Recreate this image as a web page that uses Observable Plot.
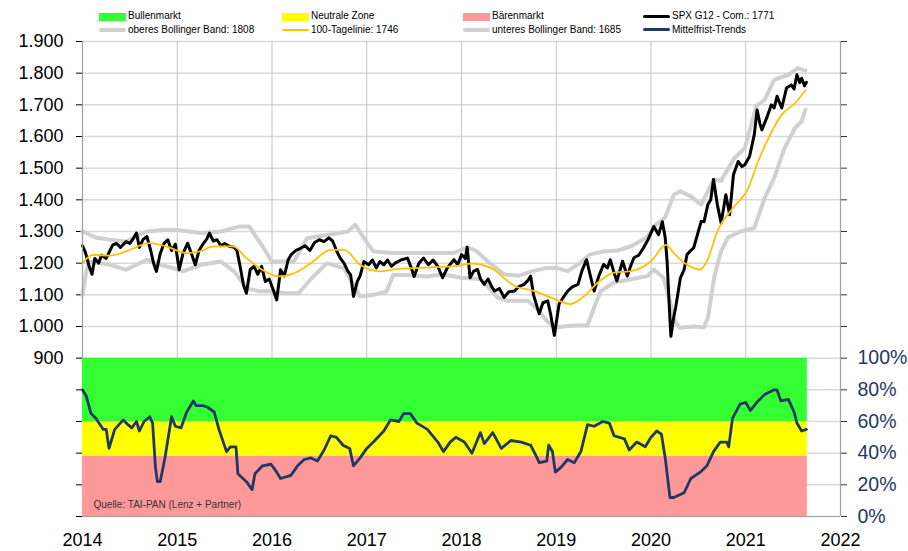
<!DOCTYPE html>
<html>
<head>
<meta charset="utf-8">
<script src="https://cdn.jsdelivr.net/npm/d3@7"></script>
<script src="https://cdn.jsdelivr.net/npm/@observablehq/plot@0.6"></script>
<style>
  html, body { margin: 0; padding: 0; background: #fff; }
  #wrap { position: relative; width: 908px; height: 551px; font-family: "Liberation Sans", Arial, sans-serif; }
  #wrap svg { position: absolute; left: 0; top: 0; }
  #legend { position: absolute; left: 0; top: 0; width: 908px; height: 40px; font-size: 10px; color: #000; z-index: 2; }
  .li { position: absolute; white-space: nowrap; line-height: 12px; }
  .sw { position: absolute; }
  svg.mainplot g[aria-label="x-axis"] text { font-size: 19.5px; fill: #000; }
  svg.mainplot g[aria-label="y-axis"] text { font-size: 18px; fill: #000; }
  svg.mainplot g[aria-label="y-axis"] line, svg.pctplot g[aria-label="y-axis"] line { stroke: #a0a0a0; }
  svg.pctplot g[aria-label="y-axis"] text { font-size: 19.5px; fill: #1f3864; }
</style>
</head>
<body>
<div id="wrap"></div>
<script>
// ---------- data (decimal year, value) ----------
const spx = [
[2014.00,1255],[2014.03,1235],[2014.07,1190],[2014.10,1165],[2014.13,1215],[2014.17,1200],[2014.20,1225],[2014.25,1215],
[2014.29,1240],[2014.32,1258],[2014.36,1262],[2014.40,1250],[2014.46,1268],[2014.50,1262],[2014.54,1280],[2014.57,1295],
[2014.60,1250],[2014.64,1275],[2014.68,1284],[2014.72,1240],[2014.75,1200],[2014.78,1174],[2014.82,1230],[2014.86,1262],
[2014.90,1274],[2014.94,1240],[2014.98,1260],[2015.02,1179],[2015.06,1230],[2015.11,1263],[2015.15,1230],[2015.19,1195],
[2015.23,1240],[2015.27,1260],[2015.31,1275],[2015.34,1295],[2015.38,1270],[2015.42,1274],[2015.46,1255],[2015.50,1262],
[2015.55,1253],[2015.60,1250],[2015.63,1240],[2015.66,1195],[2015.70,1130],[2015.73,1105],[2015.77,1180],[2015.81,1190],
[2015.85,1165],[2015.89,1190],[2015.93,1142],[2015.97,1150],[2016.02,1110],[2016.05,1084],[2016.09,1179],[2016.13,1160],
[2016.17,1210],[2016.20,1226],[2016.25,1240],[2016.30,1247],[2016.35,1255],[2016.40,1240],[2016.45,1265],[2016.50,1274],
[2016.55,1268],[2016.60,1280],[2016.64,1270],[2016.68,1240],[2016.72,1216],[2016.76,1200],[2016.80,1175],[2016.83,1163],
[2016.86,1095],[2016.90,1142],[2016.93,1160],[2016.97,1205],[2017.02,1195],[2017.06,1210],[2017.10,1185],[2017.14,1205],
[2017.18,1195],[2017.22,1210],[2017.26,1190],[2017.30,1200],[2017.36,1210],[2017.43,1216],[2017.47,1185],[2017.50,1158],
[2017.55,1200],[2017.60,1216],[2017.65,1195],[2017.70,1210],[2017.75,1190],[2017.80,1154],[2017.85,1185],[2017.92,1211],
[2017.96,1195],[2018.00,1227],[2018.04,1215],[2018.06,1250],[2018.09,1154],[2018.13,1175],[2018.17,1180],[2018.20,1150],
[2018.24,1133],[2018.28,1150],[2018.32,1125],[2018.35,1112],[2018.40,1120],[2018.45,1092],[2018.50,1110],[2018.56,1112],
[2018.60,1125],[2018.66,1133],[2018.70,1145],[2018.73,1159],[2018.76,1100],[2018.79,1070],[2018.82,1040],[2018.86,1075],
[2018.91,1081],[2018.94,1040],[2018.98,972],[2019.03,1071],[2019.07,1090],[2019.12,1112],[2019.17,1125],[2019.23,1133],
[2019.27,1175],[2019.32,1211],[2019.36,1160],[2019.40,1112],[2019.45,1160],[2019.50,1196],[2019.54,1185],[2019.57,1211],
[2019.61,1170],[2019.64,1144],[2019.70,1206],[2019.75,1159],[2019.79,1195],[2019.82,1217],[2019.87,1225],[2019.92,1248],
[2019.97,1275],[2020.03,1316],[2020.08,1290],[2020.12,1331],[2020.15,1280],[2020.17,1206],[2020.19,1080],[2020.21,969],
[2020.24,1030],[2020.26,1059],[2020.31,1153],[2020.35,1180],[2020.38,1227],[2020.42,1240],[2020.45,1248],[2020.49,1290],
[2020.53,1332],[2020.56,1331],[2020.60,1385],[2020.63,1400],[2020.66,1464],[2020.70,1385],[2020.74,1327],[2020.79,1416],
[2020.83,1353],[2020.87,1479],[2020.92,1521],[2020.96,1505],[2020.99,1511],[2021.04,1537],[2021.09,1606],[2021.12,1684],
[2021.15,1640],[2021.17,1621],[2021.22,1658],[2021.27,1700],[2021.30,1690],[2021.33,1727],[2021.38,1690],[2021.43,1753],
[2021.48,1763],[2021.51,1750],[2021.54,1795],[2021.57,1770],[2021.59,1784],[2021.62,1760],[2021.64,1771]
];
const upperBand = [
[2014.00,1300],[2014.15,1280],[2014.29,1274],[2014.46,1268],[2014.60,1290],[2014.68,1300],[2014.85,1305],[2015.00,1305],
[2015.25,1295],[2015.46,1300],[2015.66,1316],[2015.76,1316],[2015.90,1253],[2016.00,1205],[2016.23,1205],[2016.37,1279],
[2016.58,1289],[2016.80,1300],[2016.88,1321],[2016.97,1279],[2017.07,1237],[2017.28,1232],[2017.64,1232],[2017.92,1232],
[2018.06,1250],[2018.15,1240],[2018.30,1200],[2018.45,1165],[2018.60,1160],[2018.75,1175],[2018.90,1185],[2019.00,1185],
[2019.12,1175],[2019.25,1200],[2019.35,1227],[2019.50,1237],[2019.65,1240],[2019.80,1255],[2019.95,1280],[2020.05,1321],
[2020.15,1345],[2020.24,1416],[2020.31,1427],[2020.42,1411],[2020.53,1385],[2020.60,1427],[2020.66,1464],[2020.74,1460],
[2020.88,1532],[2020.99,1563],[2021.11,1695],[2021.20,1716],[2021.30,1779],[2021.45,1795],[2021.55,1816],[2021.63,1808]
];
const lowerBand = [
[2014.00,1100],[2014.04,1174],[2014.07,1205],[2014.29,1195],[2014.46,1179],[2014.68,1211],[2014.82,1195],[2014.96,1184],
[2015.06,1174],[2015.25,1195],[2015.46,1205],[2015.60,1174],[2015.73,1121],[2015.87,1111],[2016.00,1111],[2016.14,1105],
[2016.28,1105],[2016.42,1153],[2016.58,1200],[2016.76,1184],[2016.86,1132],[2016.93,1095],[2017.07,1100],[2017.21,1111],
[2017.28,1163],[2017.43,1163],[2017.64,1158],[2017.80,1165],[2018.00,1154],[2018.20,1150],[2018.38,1092],[2018.49,1081],
[2018.70,1081],[2018.80,1055],[2018.91,1014],[2019.00,998],[2019.19,1003],[2019.33,1003],[2019.40,1060],[2019.47,1112],
[2019.61,1139],[2019.79,1149],[2019.96,1159],[2020.03,1180],[2020.13,1154],[2020.20,1080],[2020.25,1019],[2020.30,996],
[2020.45,1000],[2020.56,998],[2020.60,1027],[2020.67,1160],[2020.74,1238],[2020.81,1280],[2020.95,1301],[2021.09,1311],
[2021.20,1406],[2021.30,1469],[2021.41,1564],[2021.52,1627],[2021.59,1648],[2021.63,1685]
];
const ma100 = [
[2014.00,1200],[2014.11,1226],[2014.29,1224],[2014.46,1237],[2014.71,1263],[2014.88,1253],[2015.10,1232],[2015.24,1237],
[2015.38,1253],[2015.59,1253],[2015.73,1216],[2015.87,1184],[2016.07,1158],[2016.23,1168],[2016.41,1200],[2016.62,1242],
[2016.76,1242],[2016.93,1195],[2017.14,1174],[2017.32,1182],[2017.64,1186],[2018.00,1193],[2018.10,1199],[2018.31,1185],
[2018.56,1128],[2018.77,1112],[2018.94,1092],[2019.15,1071],[2019.30,1097],[2019.44,1139],[2019.61,1170],[2019.79,1175],
[2020.00,1206],[2020.16,1258],[2020.24,1232],[2020.35,1201],[2020.52,1180],[2020.59,1206],[2020.70,1300],[2020.88,1380],
[2021.02,1432],[2021.13,1521],[2021.24,1595],[2021.38,1669],[2021.52,1705],[2021.63,1746]
];
// Mittelfrist-Trends in percent
const trend = [
[2014.00,80],[2014.04,76],[2014.09,65],[2014.14,62],[2014.22,55],[2014.25,55],[2014.28,43],[2014.34,55],[2014.43,61],
[2014.48,58],[2014.52,56],[2014.57,60],[2014.60,54],[2014.65,60],[2014.71,63],[2014.74,59],[2014.77,31],[2014.79,22],
[2014.82,22],[2014.87,37],[2014.94,63],[2014.98,57],[2015.04,56],[2015.10,66],[2015.17,73],[2015.20,70],[2015.27,70],
[2015.32,69],[2015.39,66],[2015.44,55],[2015.52,41],[2015.56,44],[2015.62,44],[2015.64,27],[2015.73,22],[2015.79,17],
[2015.82,27],[2015.90,32],[2015.99,33],[2016.05,28],[2016.09,24],[2016.20,26],[2016.27,32],[2016.34,36],[2016.41,37],
[2016.48,35],[2016.55,42],[2016.62,51],[2016.68,50],[2016.75,45],[2016.82,43],[2016.86,32],[2016.93,37],[2017.00,43],
[2017.07,47],[2017.18,54],[2017.25,61],[2017.34,60],[2017.39,65],[2017.46,65],[2017.53,59],[2017.64,55],[2017.75,47],
[2017.81,41],[2017.88,47],[2017.94,50],[2018.03,47],[2018.11,40],[2018.20,53],[2018.24,46],[2018.33,53],[2018.42,43],
[2018.52,48],[2018.63,47],[2018.73,45],[2018.79,38],[2018.82,34],[2018.90,35],[2018.92,45],[2018.96,41],[2018.99,28],
[2019.05,31],[2019.12,36],[2019.19,34],[2019.26,41],[2019.33,58],[2019.40,57],[2019.49,60],[2019.56,59],[2019.61,51],
[2019.72,49],[2019.77,42],[2019.85,47],[2019.94,44],[2020.00,50],[2020.06,54],[2020.11,52],[2020.15,37],[2020.20,12],
[2020.24,12],[2020.35,15],[2020.42,24],[2020.52,28],[2020.59,32],[2020.66,41],[2020.73,47],[2020.80,47],[2020.82,44],
[2020.86,62],[2020.94,71],[2021.00,72],[2021.05,67],[2021.13,73],[2021.20,77],[2021.30,80],[2021.33,80],[2021.37,73],
[2021.45,74],[2021.51,66],[2021.54,59],[2021.59,54],[2021.64,55]
];
// zones of the trend panel (percent)
const zoneNames  = ["Bullenmarkt", "Neutrale Zone", "Bärenmarkt"];
const zoneLow    = [60, 38, 0];
const zoneHigh   = [100, 60, 38];
const zoneColors = ["#33ff33", "#ffff00", "#ff9999"];
const zoneStart = 2014, zoneEnd = 2021.65;

const years = d3.range(2014, 2023);
const leftTicks = d3.range(400, 2000, 100);
const pctTicks = d3.range(0, 320, 20);
const source = "Quelle: TAI-PAN (Lenz + Partner)";

// legend
const legendLabels = ["Bullenmarkt", "Neutrale Zone", "Bärenmarkt", "SPX G12 - Com.: 1771",
  "oberes Bollinger Band: 1808", "100-Tagelinie: 1746", "unteres Bollinger Band: 1685", "Mittelfrist-Trends"];
const legendColors = ["#33ff33", "#ffff00", "#ff9999", "#000000", "#d0d0d0", "#ffc000", "#d0d0d0", "#1f3864"];
const legendKinds = ["area", "area", "area", "line3", "line4", "line2", "line4", "line3"];

const dotFmt = v => v >= 1000 ? Math.floor(v / 1000) + "." + String(v % 1000).padStart(3, "0") : String(v);

const W = 908, H = 551, ML = 82, MR = 68, MT = 41, MB = 35;
const X = d => d[0], Y = d => d[1];

// ---------- price panel ----------
const main = Plot.plot({
  width: W, height: H, marginLeft: ML, marginRight: MR, marginTop: MT, marginBottom: MB,
  style: {fontFamily: "'Liberation Sans', Arial, sans-serif", fontSize: "18px", background: "#fff", color: "#000"},
  x: {domain: [2014, 2022], ticks: years, tickFormat: d => String(d), tickSize: 0, tickPadding: 17, label: null},
  y: {domain: [400, 1900], ticks: leftTicks, tickFormat: v => v >= 900 ? dotFmt(v) : "", tickSize: 6, tickPadding: 13, label: null},
  marks: [
    Plot.ruleY(leftTicks, {stroke: "#d9d9d9", strokeWidth: 1.5}),
    Plot.ruleX(years.slice(1, -1), {stroke: "#c4c4c4", strokeWidth: 1}),
    Plot.line(upperBand, {x: X, y: Y, stroke: "#d0d0d0", strokeWidth: 4, strokeLinejoin: "round", strokeLinecap: "round"}),
    Plot.line(lowerBand, {x: X, y: Y, stroke: "#d0d0d0", strokeWidth: 4, strokeLinejoin: "round", strokeLinecap: "round"}),
    Plot.line(spx, {x: X, y: Y, stroke: "#000", strokeWidth: 3, strokeLinejoin: "round"}),
    Plot.line(ma100, {x: X, y: Y, stroke: "#ffc000", strokeWidth: 1.8, curve: "monotone-x"}),
    Plot.ruleX([2014, 2022], {stroke: "#a0a0a0", strokeWidth: 1.2}),
    Plot.ruleY([400], {stroke: "#a0a0a0", strokeWidth: 1.2})
  ]
});
main.classList.add("mainplot");

// ---------- trend panel (percent scale, right axis) ----------
const zones = zoneNames.map((n, i) => ({name: n, lo: zoneLow[i], hi: zoneHigh[i], color: zoneColors[i]}));
const pct = Plot.plot({
  width: W, height: H, marginLeft: ML, marginRight: MR, marginTop: MT, marginBottom: MB,
  style: {fontFamily: "'Liberation Sans', Arial, sans-serif", fontSize: "19.5px", background: "transparent", color: "#1f3864"},
  x: {domain: [2014, 2022], axis: null},
  y: {domain: [0, 300], axis: "right", ticks: pctTicks, tickFormat: p => p <= 100 ? p + "%" : "", tickSize: 6, tickPadding: 11, label: null},
  color: {type: "identity"},
  marks: [
    Plot.rect(zones, {x1: () => zoneStart, x2: () => zoneEnd, y1: "lo", y2: "hi", fill: "color"}),
    Plot.line(trend, {x: X, y: Y, stroke: "#1f3864", strokeWidth: 2.8, strokeLinejoin: "round"}),
    Plot.text([source], {frameAnchor: "bottom-left", dx: 11, dy: -9, textAnchor: "start", lineAnchor: "bottom", fontSize: 10, fill: "#333"})
  ]
});
pct.classList.add("pctplot");

const wrap = document.getElementById("wrap");
wrap.appendChild(main);
wrap.appendChild(pct);

// ---------- legend ----------
const leg = document.createElement("div");
leg.id = "legend";
wrap.appendChild(leg);
const colX = [99, 282, 463, 643];
legendLabels.forEach((lab, i) => {
  const col = i % 4, row = Math.floor(i / 4);
  const x = colX[col];
  const kind = legendKinds[i];
  const cy = row === 0 ? 16.5 : 29.5;
  const h = kind === "area" ? 8 : +kind.slice(4);
  const sw = document.createElement("div");
  sw.className = "sw";
  sw.style.left = x + "px";
  sw.style.width = "27px";
  sw.style.height = h + "px";
  sw.style.top = (cy - h / 2) + "px";
  sw.style.background = legendColors[i];
  if (kind !== "area") sw.style.borderRadius = (h / 2) + "px";
  leg.appendChild(sw);
  const t = document.createElement("div");
  t.className = "li";
  t.textContent = lab;
  t.style.left = (x + 29) + "px";
  t.style.top = (row === 0 ? 10 : 23.5) + "px";
  leg.appendChild(t);
});
</script>
</body>
</html>
